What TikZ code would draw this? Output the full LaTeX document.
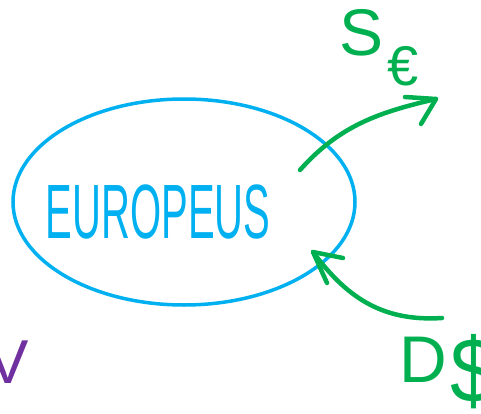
\documentclass[tikz,border=0pt]{standalone}
\usepackage{fontspec}
\setmainfont{Liberation Sans}
\usetikzlibrary{shapes.geometric}
\definecolor{skyblue}{RGB}{0,176,240}
\definecolor{grn}{RGB}{0,176,80}
\definecolor{purp}{RGB}{112,48,160}
\tikzset{
  hand/.style={line width=4.5pt,line cap=round,line join=round,color=grn},
  greentext/.style={text=grn,inner sep=0pt}
}
\begin{document}
\begin{tikzpicture}[x=1pt,y=-1pt]
\useasboundingbox (0,0) rectangle (481,414);
\clip (0,0) rectangle (481,414);
% ellipse
\node (eu) [ellipse,draw=skyblue,line width=3.5pt,minimum width=342pt,minimum height=206pt,inner sep=0pt] at (184,202) {};
\node (word) [text=skyblue,inner sep=0pt,xscale=0.52,yscale=1.0] at (158,212) {\fontsize{77}{77}\selectfont EUROPEUS};
% labels
\node (S) [greentext] at (362,33) {\fontsize{66}{66}\selectfont S};
\node (euro) [greentext] at (403,66) {\fontsize{56}{56}\selectfont €};
\node (D) [greentext] at (423,360) {\fontsize{66}{66}\selectfont D};
\node (dol) [greentext,xscale=0.9] at (474,372) {\fontsize{92}{92}\selectfont \$};
\node (iv) [text=purp,inner sep=0pt,anchor=east] at (29,362) {\fontsize{62}{62}\selectfont IV};
% arrow 1
\coordinate (a1s) at (300,170);
\coordinate (a1t) at (436,99);
\coordinate (a1b) at (405,97);
\coordinate (a1c) at (421,124);
\draw[hand] (a1s) .. controls (340,125) and (380,112) .. (a1t);
\draw[hand] (a1b) -- (a1t) -- (a1c);
% arrow 2
\coordinate (a2s) at (442,318);
\coordinate (a2t) at (313,252);
\coordinate (a2b) at (343,258);
\coordinate (a2c) at (327,283);
\draw[hand] (a2s) .. controls (380,322) and (345,295) .. (a2t);
\draw[hand] (a2b) -- (a2t) -- (a2c);
\end{tikzpicture}
\end{document}
